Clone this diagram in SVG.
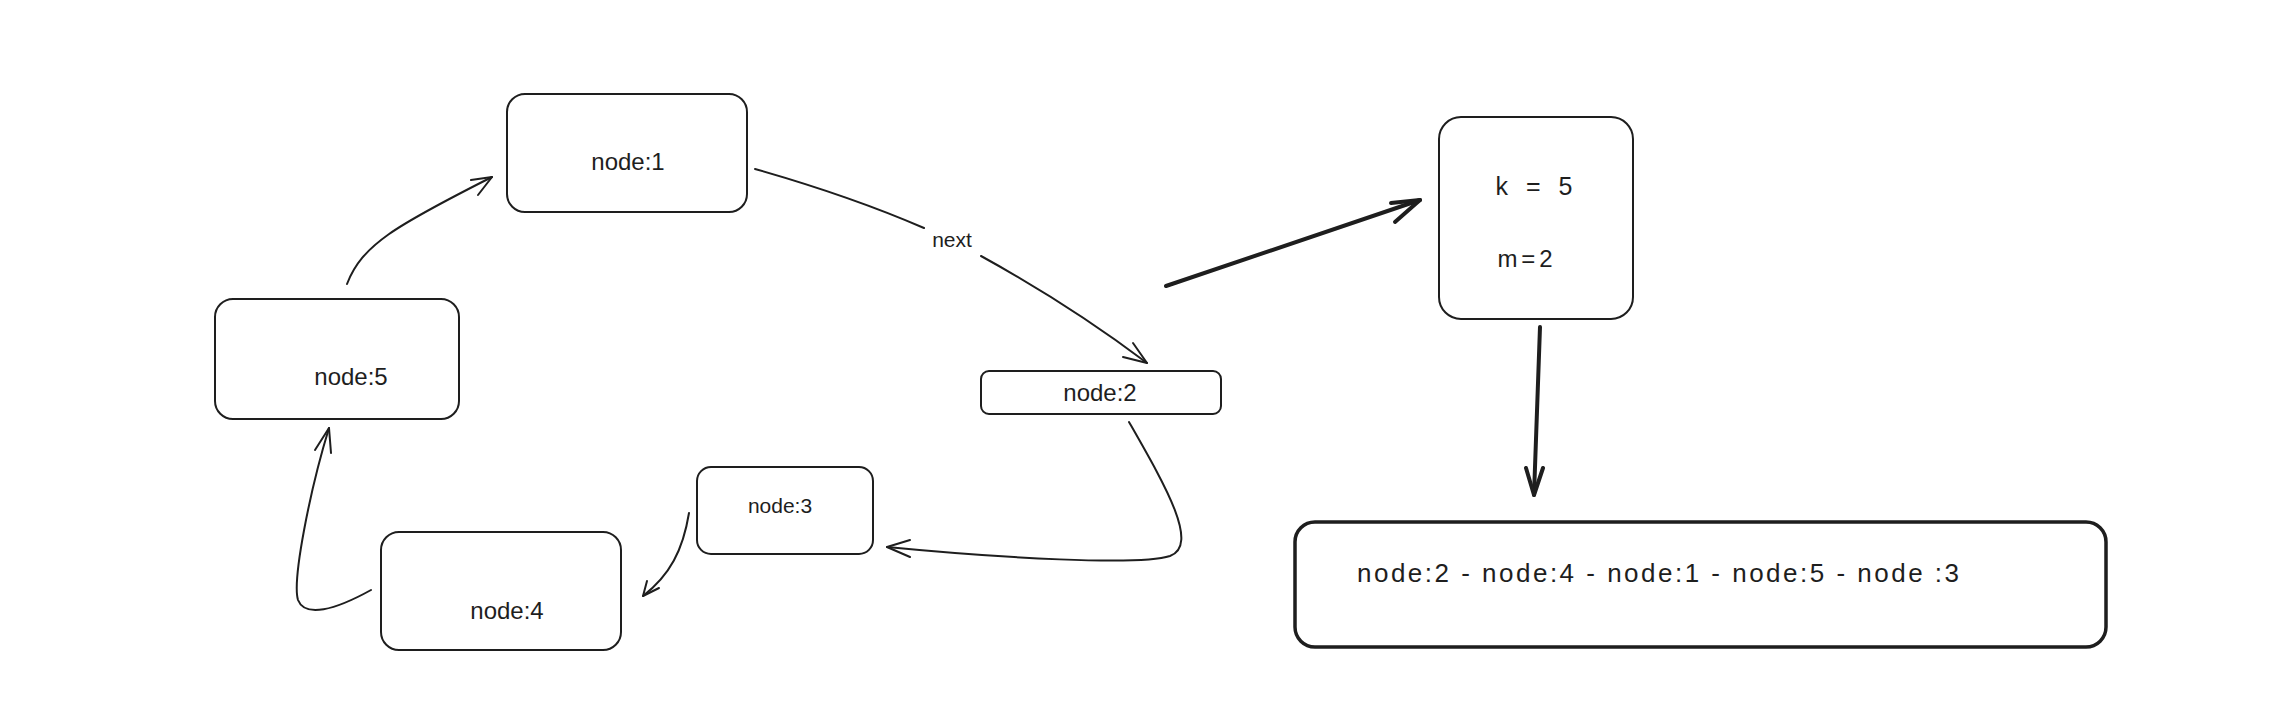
<svg xmlns="http://www.w3.org/2000/svg" width="2283" height="705" viewBox="0 0 2283 705">
<style>
.box{fill:#ffffff;stroke:#1e1e1e;stroke-width:2;}
.bold{stroke-width:3.5;}
.lbl{font-family:"Liberation Sans","DejaVu Sans",sans-serif;font-size:24px;fill:#1e1e1e;text-anchor:middle;}
.small{font-size:21px;}
.edge{fill:none;stroke:#1e1e1e;stroke-width:2;stroke-linecap:round;stroke-linejoin:round;}
.thick{stroke-width:4;}
</style>
<rect x="0" y="0" width="2283" height="705" fill="#ffffff"/>
<g id="connectors">
  <g id="e5-1"><path class="edge" d="M347,284 C362,245 395,226 492,177"/><path class="edge" d="M471,180 L492,177 L478,195"/></g>
  <g id="e1-2"><path class="edge" d="M755,169 Q850,196 924,228"/><path class="edge" d="M981,256 Q1070,305 1147,363"/><path class="edge" d="M1133,343 L1147,363 L1123,357"/><text class="lbl" x="952" y="247" style="font-size:21px">next</text></g>
  <g id="e2-3"><path class="edge" d="M1129,422 C1165,485 1200,545 1170,556 C1140,566 1000,558 887,547"/><path class="edge" d="M910,540 L887,547 L910,557"/></g>
  <g id="e3-4"><path class="edge" d="M689,513 C683,550 670,575 643,596"/><path class="edge" d="M647,581 L643,596 L659,588"/></g>
  <g id="e4-5"><path class="edge" d="M371,590 C335,610 305,618 298,600 C292,580 310,490 329,428"/><path class="edge" d="M315,450 L329,428 L331,453"/></g>
  <g id="e2-k"><path class="edge thick" d="M1166,286 L1420,200"/><path class="edge thick" d="M1391,203 L1420,200 L1395,222"/></g>
  <g id="ek-r"><path class="edge thick" d="M1540,327 L1534,495"/><path class="edge thick" d="M1526,468 L1534,495 L1543,468"/></g>
</g>
<g id="node1"><rect class="box" x="507" y="94" width="240" height="118" rx="18"/><text class="lbl" x="628" y="170">node:1</text></g>
<g id="node5"><rect class="box" x="215" y="299" width="244" height="120" rx="18"/><text class="lbl" x="351" y="385">node:5</text></g>
<g id="node2"><rect class="box" x="981" y="371" width="240" height="43" rx="8"/><text class="lbl" x="1100" y="401">node:2</text></g>
<g id="node3"><rect class="box" x="697" y="467" width="176" height="87" rx="14"/><text class="lbl small" x="780" y="513">node:3</text></g>
<g id="node4"><rect class="box" x="381" y="532" width="240" height="118" rx="18"/><text class="lbl" x="507" y="619">node:4</text></g>
<g id="kbox"><rect class="box" x="1439" y="117" width="194" height="202" rx="22"/><text class="lbl" x="1534" y="195" style="font-size:25px" textLength="77" lengthAdjust="spacing">k = 5</text><text class="lbl" x="1525" y="267" textLength="55" lengthAdjust="spacing">m=2</text></g>
<g id="result"><rect class="box bold" x="1295" y="522" width="811" height="125" rx="20"/><text class="lbl" x="1357" y="582" style="text-anchor:start;font-size:26px" textLength="602" lengthAdjust="spacing">node:2 - node:4 - node:1 - node:5 - node :3</text></g>
</svg>
